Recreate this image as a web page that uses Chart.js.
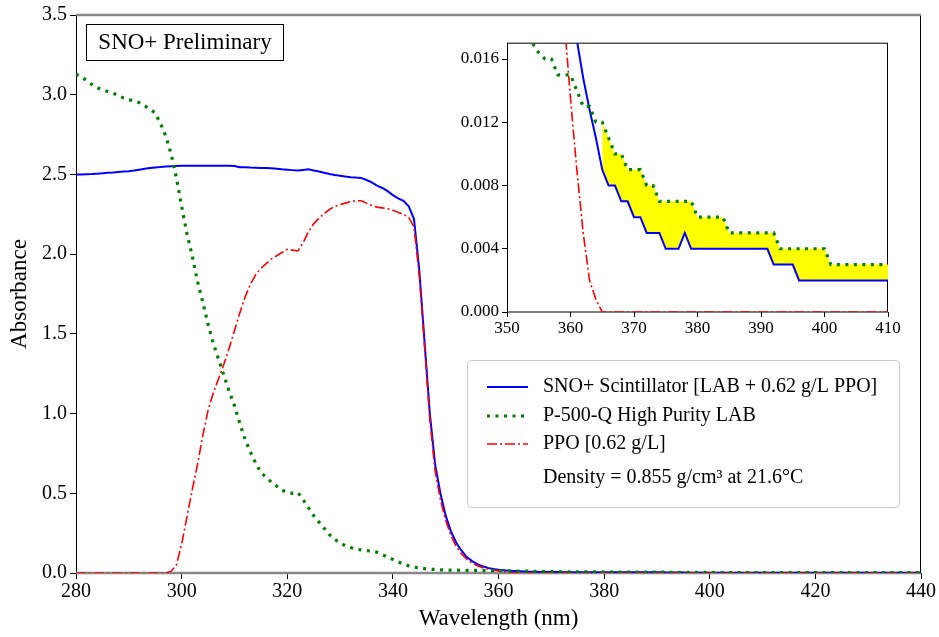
<!DOCTYPE html>
<html>
<head>
<meta charset="utf-8">
<script src="https://cdn.jsdelivr.net/npm/chart.js@4.4.0/dist/chart.umd.min.js"></script>
<style>
  html, body { margin: 0; padding: 0; background: #fff; }
  #wrap { position: relative; width: 939px; height: 637px; }
  #mainChart { position: absolute; left: 0; top: 0; }
  #insetChart { position: absolute; left: 440px; top: 30px; }
</style>
</head>
<body>
<div id="wrap">
  <canvas id="mainChart" width="939" height="637"></canvas>
  <canvas id="insetChart" width="470" height="310"></canvas>
</div>
<script>
// Wellenlaenge (nm)
const wavelength = [
  280, 281, 282, 283, 284, 285, 286, 287, 288, 289,
  290, 291, 292, 293, 294, 295, 296, 297, 298, 299,
  300, 301, 302, 303, 304, 305, 306, 307, 308, 309,
  310, 311, 312, 313, 314, 315, 316, 317, 318, 319,
  320, 321, 322, 323, 324, 325, 326, 327, 328, 329,
  330, 331, 332, 333, 334, 335, 336, 337, 338, 339,
  340, 341, 342, 343, 344, 345, 346, 347, 348, 349,
  350, 351, 352, 353, 354, 355, 356, 357, 358, 359,
  360, 361, 362, 363, 364, 365, 366, 367, 368, 369,
  370, 371, 372, 373, 374, 375, 376, 377, 378, 379,
  380, 381, 382, 383, 384, 385, 386, 387, 388, 389,
  390, 391, 392, 393, 394, 395, 396, 397, 398, 399,
  400, 401, 402, 403, 404, 405, 406, 407, 408, 409,
  410, 420, 430, 440
];

// SNO+ Scintillator [LAB + 0.62 g/L PPO]
const snoScint = [
  2.500, 2.500, 2.501, 2.502, 2.505, 2.507, 2.510, 2.512, 2.515, 2.518,
  2.520, 2.524, 2.530, 2.535, 2.540, 2.543, 2.546, 2.550, 2.552, 2.553,
  2.554, 2.554, 2.555, 2.555, 2.555, 2.555, 2.555, 2.555, 2.554, 2.555,
  2.553, 2.545, 2.545, 2.543, 2.542, 2.540, 2.540, 2.538, 2.535, 2.532,
  2.530, 2.527, 2.524, 2.528, 2.532, 2.525, 2.518, 2.510, 2.503, 2.497,
  2.492, 2.487, 2.483, 2.480, 2.478, 2.465, 2.450, 2.430, 2.415, 2.395,
  2.370, 2.350, 2.335, 2.300, 2.220, 1.900, 1.450, 1.000, 0.680, 0.500,
  0.360, 0.260, 0.190, 0.140, 0.100, 0.075, 0.056, 0.042, 0.032, 0.025,
  0.020, 0.0172, 0.0148, 0.0128, 0.0110, 0.009, 0.008, 0.008, 0.007, 0.007,
  0.006, 0.006, 0.005, 0.005, 0.005, 0.004, 0.004, 0.004, 0.005, 0.004,
  0.004, 0.004, 0.004, 0.004, 0.004, 0.004, 0.004, 0.004, 0.004, 0.004,
  0.004, 0.004, 0.003, 0.003, 0.003, 0.003, 0.002, 0.002, 0.002, 0.002,
  0.002, 0.002, 0.002, 0.002, 0.002, 0.002, 0.002, 0.002, 0.002, 0.002,
  0.002, 0.002, 0.002, 0.002
];

// P-500-Q High Purity LAB
const labP500Q = [
  3.130, 3.110, 3.090, 3.065, 3.045, 3.030, 3.020, 3.010, 2.995, 2.980,
  2.970, 2.960, 2.950, 2.930, 2.910, 2.885, 2.820, 2.740, 2.630, 2.480,
  2.300, 2.130, 1.990, 1.830, 1.700, 1.560, 1.440, 1.340, 1.240, 1.140,
  1.050, 0.940, 0.840, 0.760, 0.690, 0.630, 0.600, 0.570, 0.545, 0.520,
  0.505, 0.500, 0.505, 0.460, 0.410, 0.360, 0.320, 0.280, 0.240, 0.210,
  0.190, 0.170, 0.160, 0.150, 0.145, 0.140, 0.137, 0.130, 0.115, 0.100,
  0.085, 0.070, 0.055, 0.045, 0.037, 0.032, 0.027, 0.024, 0.022, 0.020,
  0.019, 0.018, 0.0176, 0.0173, 0.0170, 0.0164, 0.016, 0.016, 0.015, 0.015,
  0.015, 0.014, 0.013, 0.013, 0.012, 0.012, 0.011, 0.010, 0.010, 0.009,
  0.009, 0.009, 0.008, 0.008, 0.007, 0.007, 0.007, 0.007, 0.007, 0.007,
  0.006, 0.006, 0.006, 0.006, 0.006, 0.005, 0.005, 0.005, 0.005, 0.005,
  0.005, 0.005, 0.005, 0.004, 0.004, 0.004, 0.004, 0.004, 0.004, 0.004,
  0.004, 0.003, 0.003, 0.003, 0.003, 0.003, 0.003, 0.003, 0.003, 0.003,
  0.003, 0.003, 0.003, 0.003
];

// PPO [0.62 g/L]
const ppo = [
  0, 0, 0, 0, 0, 0, 0, 0, 0, 0,
  0, 0, 0, 0, 0, 0, 0, 0, 0.010, 0.050,
  0.180, 0.350, 0.520, 0.680, 0.860, 1.020, 1.130, 1.220, 1.310, 1.410,
  1.520, 1.630, 1.730, 1.810, 1.870, 1.910, 1.940, 1.970, 1.990, 2.010,
  2.030, 2.025, 2.020, 2.070, 2.140, 2.190, 2.225, 2.255, 2.280, 2.300,
  2.310, 2.320, 2.330, 2.335, 2.335, 2.320, 2.305, 2.295, 2.290, 2.285,
  2.275, 2.262, 2.250, 2.230, 2.170, 1.870, 1.420, 0.960, 0.640, 0.460,
  0.330, 0.235, 0.165, 0.120, 0.085, 0.062, 0.045, 0.033, 0.025, 0.0185,
  0.0135, 0.009, 0.005, 0.002, 0.0008, 0, 0, 0, 0, 0,
  0, 0, 0, 0, 0, 0, 0, 0, 0, 0,
  0, 0, 0, 0, 0, 0, 0, 0, 0, 0,
  0, 0, 0, 0, 0, 0, 0, 0, 0, 0,
  0, 0, 0, 0, 0, 0, 0, 0, 0, 0,
  0, 0, 0, 0
];

// tick labels
const xTicks = [280, 300, 320, 340, 360, 380, 400, 420, 440];
const yTicks = [0, 0.5, 1.0, 1.5, 2.0, 2.5, 3.0, 3.5];
const insetXTicks = [350, 360, 370, 380, 390, 400, 410];
const insetYTicks = [0, 0.004, 0.008, 0.012, 0.016];

const serif = '"Liberation Serif", "Times New Roman", serif';

function toPoints(series) {
  return wavelength.map((x, i) => ({ x: x, y: series[i] }));
}

// rahmen: links/rechts schwarz, oben/unten grau
const frame = {
  id: 'frame',
  beforeDatasetsDraw(chart, args, opts) {
    const { ctx, chartArea: a } = chart;
    ctx.save();
    if (opts.white) {
      ctx.fillStyle = '#fff';
      ctx.fillRect(a.left, a.top, a.right - a.left, a.bottom - a.top);
    }
    ctx.lineWidth = 1;
    ctx.strokeStyle = '#000';
    ctx.beginPath();
    ctx.moveTo(a.left + 0.5, a.top); ctx.lineTo(a.left + 0.5, a.bottom);
    ctx.moveTo(a.right - 0.5, a.top); ctx.lineTo(a.right - 0.5, a.bottom);
    ctx.stroke();
    ctx.strokeStyle = opts.hColor;
    ctx.lineWidth = opts.hWidth;
    ctx.beginPath();
    ctx.moveTo(a.left, a.top); ctx.lineTo(a.right, a.top);
    ctx.moveTo(a.left, a.bottom); ctx.lineTo(a.right, a.bottom);
    ctx.stroke();
    ctx.restore();
  }
};

// legende + "SNO+ Preliminary"
const annotations = {
  id: 'annotations',
  afterDraw(chart) {
    const ctx = chart.ctx;
    ctx.save();
    // SNO+ Preliminary box
    ctx.fillStyle = '#fff';
    ctx.fillRect(86.5, 24.5, 197, 36);
    ctx.strokeStyle = '#000';
    ctx.lineWidth = 1;
    ctx.strokeRect(86.5, 24.5, 197, 36);
    ctx.fillStyle = '#000';
    ctx.font = '23px ' + serif;
    ctx.textAlign = 'center';
    ctx.textBaseline = 'middle';
    ctx.fillText('SNO+ Preliminary', 185, 43);

    // legend box
    ctx.fillStyle = 'rgba(255,255,255,0.8)';
    ctx.strokeStyle = '#cccccc';
    ctx.beginPath();
    ctx.roundRect(467.5, 360.5, 432, 147, 4);
    ctx.fill();
    ctx.stroke();

    const rows = [387, 416, 444];
    ctx.font = '20px ' + serif;
    ctx.textAlign = 'left';
    chart.data.datasets.forEach((ds, i) => {
      ctx.strokeStyle = ds.borderColor;
      ctx.lineWidth = ds.borderWidth;
      ctx.setLineDash(ds.borderDash || []);
      ctx.beginPath();
      ctx.moveTo(487, rows[i]);
      ctx.lineTo(528, rows[i]);
      ctx.stroke();
      ctx.fillStyle = '#000';
      ctx.fillText(ds.label, 543, rows[i]);
    });
    ctx.fillText('Density = 0.855 g/cm\u00b3 at 21.6\u00b0C', 543, 478);
    ctx.restore();
  }
};

const mainChart = new Chart(document.getElementById('mainChart'), {
  type: 'line',
  data: {
    datasets: [
      {
        label: 'SNO+ Scintillator [LAB + 0.62 g/L PPO]',
        data: toPoints(snoScint),
        borderColor: '#0000ff',
        borderWidth: 2,
        order: 2
      },
      {
        label: 'P-500-Q High Purity LAB',
        data: toPoints(labP500Q),
        borderColor: '#008000',
        borderWidth: 3.2,
        borderDash: [3, 5.5],
        order: 0
      },
      {
        label: 'PPO [0.62 g/L]',
        data: toPoints(ppo),
        borderColor: '#ff0000',
        borderWidth: 1.6,
        borderDash: [10, 3, 2, 3],
        order: 1
      }
    ]
  },
  options: {
    responsive: false,
    animation: false,
    elements: { point: { radius: 0 }, line: { tension: 0 } },
    layout: { padding: { left: 0, right: 18, top: 15, bottom: 0 } },
    plugins: {
      legend: { display: false },
      tooltip: { enabled: false },
      frame: { hColor: '#888888', hWidth: 2.5, white: false }
    },
    scales: {
      x: {
        type: 'linear',
        min: 280,
        max: 440,
        afterBuildTicks: (axis) => { axis.ticks = xTicks.map(v => ({ value: v })); },
        afterFit: (scale) => { scale.height = 64; },
        border: { display: false },
        grid: { drawOnChartArea: false, color: '#000', tickLength: 6 },
        ticks: { color: '#000', padding: 1, maxRotation: 0, font: { family: serif, size: 20 } },
        title: {
          display: true,
          text: 'Wavelength (nm)',
          color: '#000',
          font: { family: serif, size: 23 },
          padding: { top: 0, bottom: 4 }
        }
      },
      y: {
        min: 0,
        max: 3.5,
        afterBuildTicks: (axis) => { axis.ticks = yTicks.map(v => ({ value: v })); },
        afterFit: (scale) => { scale.width = 76; },
        border: { display: false },
        grid: { drawOnChartArea: false, color: '#000', tickLength: 6 },
        ticks: {
          color: '#000',
          padding: 3,
          font: { family: serif, size: 20 },
          callback: (v) => v.toFixed(1)
        },
        title: {
          display: true,
          text: 'Absorbance',
          color: '#000',
          font: { family: serif, size: 23 },
          padding: { top: 6, bottom: 0 }
        }
      }
    }
  },
  plugins: [frame, annotations]
});

// inset: 350-410 nm, gelbe flaeche zwischen LAB und Szintillator ab 365 nm
const fillPoints = toPoints(labP500Q).filter(p => p.x >= 365 && p.x <= 410);

const insetChart = new Chart(document.getElementById('insetChart'), {
  type: 'line',
  data: {
    datasets: [
      {
        data: toPoints(snoScint),
        borderColor: '#0000ff',
        borderWidth: 2,
        order: 2
      },
      {
        data: toPoints(labP500Q),
        borderColor: '#008000',
        borderWidth: 3.2,
        borderDash: [3, 5.5],
        order: 0
      },
      {
        data: toPoints(ppo),
        borderColor: '#ff0000',
        borderWidth: 1.6,
        borderDash: [10, 3, 2, 3],
        order: 1
      },
      {
        data: fillPoints,
        borderWidth: 0,
        borderColor: 'rgba(0,0,0,0)',
        backgroundColor: '#ffff00',
        fill: { target: 0 },
        order: 10
      }
    ]
  },
  options: {
    responsive: false,
    animation: false,
    elements: { point: { radius: 0 }, line: { tension: 0 } },
    layout: { padding: { left: 0, right: 22, top: 13, bottom: 0 } },
    plugins: {
      legend: { display: false },
      tooltip: { enabled: false },
      frame: { hColor: '#000', hWidth: 1, white: true }
    },
    scales: {
      x: {
        type: 'linear',
        min: 350,
        max: 410,
        afterBuildTicks: (axis) => { axis.ticks = insetXTicks.map(v => ({ value: v })); },
        afterFit: (scale) => { scale.height = 28; },
        border: { display: false },
        grid: { drawOnChartArea: false, color: '#000', tickLength: 5 },
        ticks: { color: '#000', padding: 1, maxRotation: 0, font: { family: serif, size: 17 } }
      },
      y: {
        min: 0,
        max: 0.017,
        afterBuildTicks: (axis) => { axis.ticks = insetYTicks.map(v => ({ value: v })); },
        afterFit: (scale) => { scale.width = 67; },
        border: { display: false },
        grid: { drawOnChartArea: false, color: '#000', tickLength: 5 },
        ticks: {
          color: '#000',
          padding: 3,
          font: { family: serif, size: 17 },
          callback: (v) => v.toFixed(3)
        }
      }
    }
  },
  plugins: [frame]
});
</script>
</body>
</html>
